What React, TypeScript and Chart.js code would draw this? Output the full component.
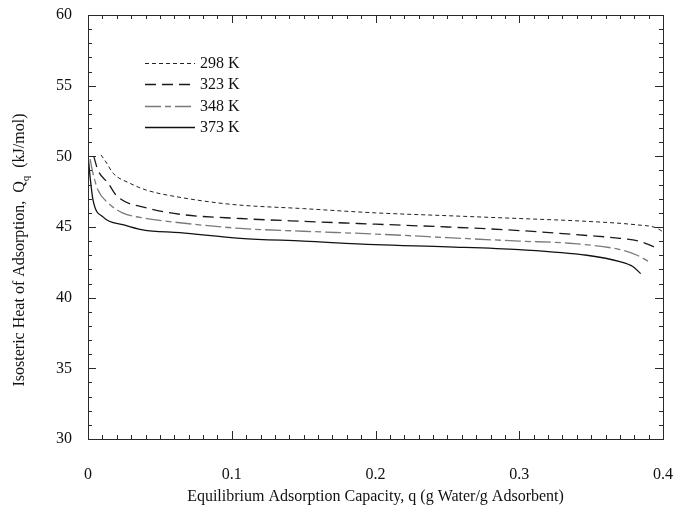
import { useEffect, useRef } from 'react';
import { Chart, registerables } from 'chart.js';

Chart.register(...registerables);

const FONT = '"Liberation Serif", "DejaVu Serif", serif';

// Tick labels
const xTickValues = [0, 0.1, 0.2, 0.3, 0.4];
const xTickLabels = ['0', '0.1', '0.2', '0.3', '0.4'];
const yTickValues = [30, 35, 40, 45, 50, 55, 60];
const yTickLabels = ['30', '35', '40', '45', '50', '55', '60'];

// Series names
const seriesNames = ['298 K', '323 K', '348 K', '373 K'];

// 298 K
const q298 = [0.009, 0.0125, 0.0175, 0.029, 0.041, 0.064, 0.1, 0.15, 0.2, 0.25, 0.3, 0.347, 0.382, 0.395, 0.401];
const Q298 = [50.1, 49.6, 48.8, 48.1, 47.6, 47.1, 46.6, 46.3, 46.0, 45.8, 45.6, 45.4, 45.15, 44.95, 44.6];

// 323 K
const q323 = [0.004, 0.007, 0.014, 0.02, 0.041, 0.064, 0.106, 0.15, 0.2, 0.25, 0.3, 0.347, 0.37, 0.385, 0.397];
const Q323 = [50.0, 49.0, 48.1, 47.2, 46.35, 45.9, 45.6, 45.4, 45.2, 45.0, 44.75, 44.4, 44.2, 43.95, 43.45];

// 348 K
const q348 = [0.0015, 0.003, 0.007, 0.014, 0.024, 0.041, 0.064, 0.106, 0.15, 0.2, 0.25, 0.3, 0.335, 0.37, 0.382, 0.392];
const Q348 = [49.8, 49.0, 47.6, 46.7, 46.0, 45.6, 45.3, 44.9, 44.7, 44.5, 44.25, 44.0, 43.85, 43.4, 43.0, 42.45];

// 373 K
const q373 = [0, 0.0015, 0.0035, 0.0106, 0.025, 0.038, 0.064, 0.106, 0.15, 0.2, 0.25, 0.3, 0.347, 0.37, 0.379, 0.3845];
const Q373 = [50.1, 48.5, 46.9, 45.7, 45.15, 44.8, 44.6, 44.2, 44.0, 43.75, 43.6, 43.4, 43.0, 42.55, 42.2, 41.7];

const toPoints = (xs: number[], ys: number[]) => xs.map((x, i) => ({ x, y: ys[i] }));

export default function App() {
  const ref = useRef<HTMLCanvasElement>(null);

  useEffect(() => {
    document.body.style.margin = '0';
    const canvas = ref.current;
    if (!canvas) return;

    const frame = {
      id: 'frameTicks',
      afterDraw(chart: any) {
        const { ctx, chartArea } = chart;
        const { left, right, top, bottom } = chartArea;
        const xs = chart.scales.x;
        const ys = chart.scales.y;
        ctx.save();
        ctx.strokeStyle = '#2a2a2a';
        ctx.lineWidth = 1;
        ctx.strokeRect(Math.round(left) + 0.5, Math.round(top) + 0.5, Math.round(right - left), Math.round(bottom - top));
        ctx.beginPath();
        for (let i = 0; i <= 40; i++) {
          const v = i / 100;
          const px = Math.round(xs.getPixelForValue(v)) + 0.5;
          const len = i % 10 === 0 ? 8 : 4;
          ctx.moveTo(px, bottom);
          ctx.lineTo(px, bottom - len);
          ctx.moveTo(px, top);
          ctx.lineTo(px, top + len);
        }
        for (let v = 30; v <= 60; v++) {
          const py = Math.round(ys.getPixelForValue(v)) + 0.5;
          const len = v % 5 === 0 ? 8 : 4;
          ctx.moveTo(left, py);
          ctx.lineTo(left + len, py);
          ctx.moveTo(right, py);
          ctx.lineTo(right - len, py);
        }
        ctx.stroke();

        // Legend
        ctx.font = '16px ' + FONT;
        ctx.fillStyle = '#111';
        ctx.textBaseline = 'middle';
        ctx.textAlign = 'left';
        chart.data.datasets.forEach((ds: any, i: number) => {
          const y = Math.round(top + 48 + i * 21.3) + 0.5;
          ctx.save();
          ctx.strokeStyle = ds.borderColor;
          ctx.lineWidth = ds.borderWidth;
          ctx.setLineDash(ds.borderDash || []);
          ctx.beginPath();
          ctx.moveTo(left + 57, y);
          ctx.lineTo(left + 107, y);
          ctx.stroke();
          ctx.restore();
          ctx.fillText(ds.label, left + 112, y);
        });

        // X title
        ctx.textAlign = 'center';
        ctx.font = '16px ' + FONT;
        ctx.fillText('Equilibrium Adsorption Capacity, q (g Water/g Adsorbent)', (left + right) / 2, 497);

        // Y title with subscript
        const main = 'Isosteric Heat of Adsorption,  Q';
        const sub = 'q';
        const tail = '  (kJ/mol)';
        ctx.translate(20, 250);
        ctx.rotate(-Math.PI / 2);
        ctx.textAlign = 'left';
        ctx.font = '16px ' + FONT;
        const w1 = ctx.measureText(main).width;
        const w3 = ctx.measureText(tail).width;
        ctx.font = '11px ' + FONT;
        const w2 = ctx.measureText(sub).width;
        const total = w1 + w2 + w3;
        let x0 = -total / 2;
        ctx.font = '16px ' + FONT;
        ctx.fillText(main, x0, 0);
        x0 += w1;
        ctx.font = '11px ' + FONT;
        ctx.fillText(sub, x0, 6);
        x0 += w2;
        ctx.font = '16px ' + FONT;
        ctx.fillText(tail, x0, 0);
        ctx.restore();
      },
    };

    const chart = new Chart(canvas, {
      type: 'line',
      data: {
        datasets: [
          {
            label: seriesNames[0],
            data: toPoints(q298, Q298),
            borderColor: '#222',
            borderWidth: 1,
            borderDash: [4, 3],
          },
          {
            label: seriesNames[1],
            data: toPoints(q323, Q323),
            borderColor: '#1a1a1a',
            borderWidth: 1.3,
            borderDash: [11, 6],
          },
          {
            label: seriesNames[2],
            data: toPoints(q348, Q348),
            borderColor: '#7a7a7a',
            borderWidth: 1.3,
            borderDash: [16, 4, 6, 4],
          },
          {
            label: seriesNames[3],
            data: toPoints(q373, Q373),
            borderColor: '#111',
            borderWidth: 1.3,
            borderDash: [],
          },
        ] as any,
      },
      options: {
        animation: false,
        responsive: false,
        devicePixelRatio: 1,
        layout: { padding: { left: 0, right: 13, top: 15, bottom: 0 } },
        elements: {
          point: { radius: 0 },
          line: { cubicInterpolationMode: 'monotone', fill: false },
        },
        plugins: {
          legend: { display: false },
          tooltip: { enabled: false },
        },
        scales: {
          x: {
            type: 'linear',
            min: 0,
            max: 0.4,
            afterBuildTicks: (s: any) => {
              s.ticks = xTickValues.map((v) => ({ value: v }));
            },
            afterFit: (s: any) => {
              s.height = 71;
              s.paddingLeft = 0;
              s.paddingRight = 0;
            },
            ticks: {
              padding: 26,
              color: '#111',
              font: { family: FONT, size: 16 },
              maxRotation: 0,
              autoSkip: false,
              callback: (v: any) => {
                const i = xTickValues.findIndex((t) => Math.abs(t - Number(v)) < 1e-9);
                return i >= 0 ? xTickLabels[i] : '';
              },
            },
            grid: { display: false, drawTicks: false },
            border: { display: false },
          },
          y: {
            type: 'linear',
            min: 30,
            max: 60,
            afterBuildTicks: (s: any) => {
              s.ticks = yTickValues.map((v) => ({ value: v }));
            },
            afterFit: (s: any) => {
              s.width = 88;
              s.paddingTop = 0;
              s.paddingBottom = 0;
            },
            ticks: {
              padding: 16,
              color: '#111',
              font: { family: FONT, size: 16 },
              autoSkip: false,
              callback: (v: any) => {
                const i = yTickValues.findIndex((t) => Math.abs(t - Number(v)) < 1e-9);
                return i >= 0 ? yTickLabels[i] : '';
              },
            },
            grid: { display: false, drawTicks: false },
            border: { display: false },
          },
        },
      },
      plugins: [frame],
    });

    return () => chart.destroy();
  }, []);

  return (
    <div style={{ width: 676, height: 510 }}>
      <canvas ref={ref} width={676} height={510} style={{ width: 676, height: 510 }} />
    </div>
  );
}
